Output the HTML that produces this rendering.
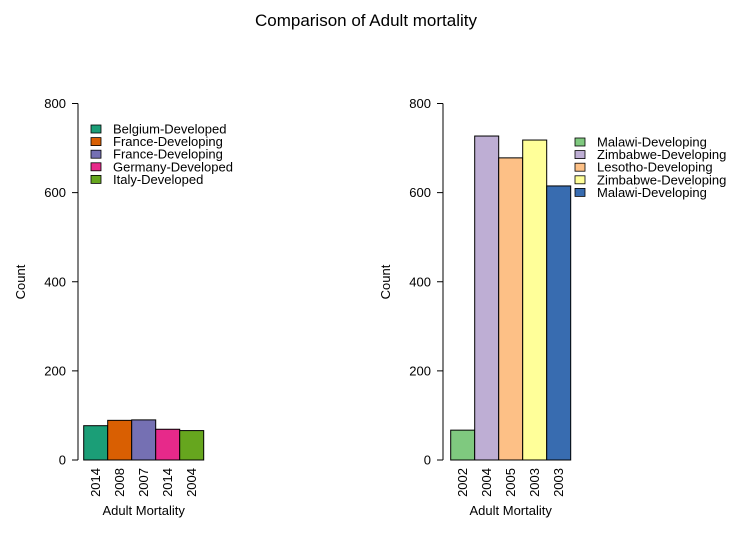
<!DOCTYPE html>
<html><head><meta charset="utf-8"><style>
body{margin:0;background:#fff;}
svg text{font-family:"Liberation Sans",Arial,sans-serif;fill:#000;}
</style></head><body>
<svg id="chart" width="732" height="532" xmlns="http://www.w3.org/2000/svg">
<text x="366" y="26" font-size="17" text-anchor="middle">Comparison of Adult mortality</text>
<g id="p1"></g>
<g id="p2"></g>
</svg>
<script>
const leftYears = ["2014","2008","2007","2014","2004"];
const leftValues = [77, 89, 90, 69, 66];
const leftLabels = ["Belgium-Developed","France-Developing","France-Developing","Germany-Developed","Italy-Developed"];
const leftColors = ["#1b9e77","#d95f02","#7570b3","#e7298a","#66a61e"];
const rightYears = ["2002","2004","2005","2003","2003"];
const rightValues = [67, 727, 678, 718, 615];
const rightLabels = ["Malawi-Developing","Zimbabwe-Developing","Lesotho-Developing","Zimbabwe-Developing","Malawi-Developing"];
const rightColors = ["#7fc97f","#beaed4","#fdc086","#ffff99","#386cb0"];
const yTicks = [0,200,400,600,800];

const NS="http://www.w3.org/2000/svg";
function mk(parent,tag,attrs,txt){const e=document.createElementNS(NS,tag);for(const k in attrs)e.setAttribute(k,attrs[k]);if(txt!==undefined)e.textContent=txt;parent.appendChild(e);return e;}
const y=v=>460-v*(460-103.5)/800;

function panel(g,axisX,barX,years,values,labels,colors,legX,legY){
  const ax=mk(g,'line',{x1:axisX,x2:axisX,y1:y(0),y2:y(800),stroke:'#000'});
  
  
  yTicks.forEach(t=>{
    const tk=mk(g,'line',{x1:axisX-6,x2:axisX,y1:y(t),y2:y(t),stroke:'#000'});
    
    
    const tl=mk(g,'text',{x:axisX-12,y:y(t)+4.5,'font-size':13,'text-anchor':'end'},String(t));
    
    
  });
  const yt=mk(g,'text',{x:0,y:0,'font-size':13,'text-anchor':'middle',transform:`translate(${axisX-53},282) rotate(-90)`},'Count');
  
  
  const w=24;
  values.forEach((v,i)=>{
    const r=mk(g,'rect',{x:barX+i*w,y:y(v),width:w,height:y(0)-y(v),fill:colors[i],stroke:'#000','stroke-width':1});
    
    
    const cx=barX+i*w+w/2+4.5;
    const xl=mk(g,'text',{x:0,y:0,'font-size':13,'text-anchor':'end',transform:`translate(${cx},468) rotate(-90)`},years[i]);
    
    
  });
  const xt=mk(g,'text',{x:barX+60,y:515,'font-size':13,'text-anchor':'middle'},'Adult Mortality');
  
  
  labels.forEach((l,i)=>{
    const cy=legY+i*12.6;
    const b=mk(g,'rect',{x:legX,y:cy-4,width:10,height:8,fill:colors[i],stroke:'#000','stroke-width':0.8});
    
    
    const t=mk(g,'text',{x:legX+22,y:cy+4.5,'font-size':13},l);
    
    
  });
}
panel(document.getElementById('p1'),78,83.7,leftYears,leftValues,leftLabels,leftColors,91,129);
panel(document.getElementById('p2'),443,450.7,rightYears,rightValues,rightLabels,rightColors,575,142);
</script>
</body></html>
